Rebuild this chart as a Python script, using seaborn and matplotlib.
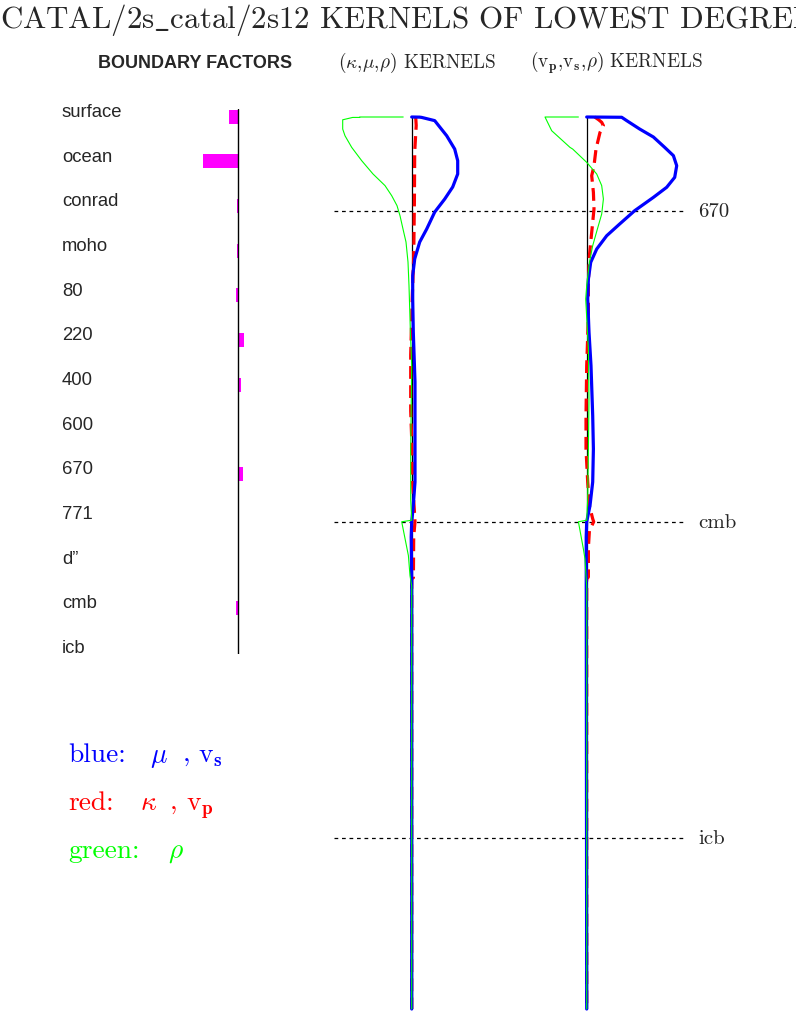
import matplotlib
matplotlib.use('Agg')
import numpy as np
import pandas as pd
import matplotlib.pyplot as plt
import seaborn as sns
from matplotlib.transforms import blended_transform_factory, offset_copy


W, H = 796, 1012
EARTH_RADIUS = 6371

# boundary factors (left panel)
BOUNDARY_NAMES = ['surface', 'ocean', 'conrad', 'moho', '80', '220', '400',
                  '600', '670', '771', 'd\u201d', 'cmb', 'icb']
BOUNDARY_FACTORS = [-8.5, -35, -0.5, -0.5, -1.8, 6.5, 3.3, 0, 5.5, 0, 0, -1.5, 0]

# discontinuities marked across the kernel panels (depth, km)
DISC_NAMES = ['670', 'cmb', 'icb']
DISC_DEPTHS = [670, 2891, 5150]

# (kappa, mu, rho) kernels
K1_MU_DEPTH = [0, 1, 3, 26, 134, 229, 312, 407, 500, 586, 679, 800, 893, 1014,
               1133, 1300, 1536, 1893, 2250, 2607, 2800, 2891, 3000, 3300, 6371]
K1_MU = [0, 8, 10, 23, 35, 43, 46, 46, 41, 33, 23, 15, 8, 3,
         1, 1, 1.6, 3.3, 3.3, 3.3, 1.3, 0, -0.5, 0, 0]

K1_KAPPA_DEPTH = [0, 60, 250, 600, 1000, 1100, 1300, 1700, 2100, 2300, 2600,
                  2850, 2891, 3000, 3290, 3300, 6371]
K1_KAPPA = [4, 4.5, 3, 2.7, 2, 1.5, 0.5, -1, -1, 0, 0.8,
            3, 3.3, 2, 1.7, 0, 0]

K1_RHO_DEPTH = [0, 0, 3, 3, 20, 86, 134, 217, 312, 407, 490, 562, 633, 705, 800,
                893, 1036, 1205, 1536, 1776, 2370, 2730, 2880, 2891, 3133, 3276,
                3350, 6371]
K1_RHO = [-8.5, -52, -52, -59, -69, -69, -66.7, -60, -50, -38.7, -26.7, -20, -14.7,
          -11.7, -8.7, -5.7, -3.7, -2.7, -1.3, 0, -1, -1, 0, -10, -3.3, -1.7, 0, 0]

# (vp, vs, rho) kernels
K2_VS_DEPTH = [0, 2, 26, 86, 143, 217, 276, 348, 431, 502, 574, 669, 764, 848, 943,
               1038, 1157, 1300, 1536, 1776, 2133, 2371, 2607, 2776, 2891, 3000, 6371]
K2_VS = [0, 35, 40, 53, 66.7, 78, 86.7, 90, 88, 80, 66.7, 48, 33, 20, 10,
         4, 1.7, 1, 2.3, 4.3, 6, 6.7, 6, 3.3, 0, -0.5, 0]

K2_VP_DEPTH = [0, 20, 38, 62, 110, 229, 348, 419, 538, 657, 824, 991, 1180, 1420,
               1776, 2133, 2371, 2607, 2776, 2870, 2891, 2955, 3073, 3286, 3300, 6371]
K2_VP = [8, 12, 15, 16.7, 13.3, 9.3, 7.3, 5, 6.7, 7.3, 5, 2.7, 1.7, 1.7,
         0, -0.7, -0.7, 1, 2.7, 6, 7, 2.7, 1.7, 1.7, 0, 0]

K2_RHO_DEPTH = [0, 0, 98, 217, 229, 324, 407, 490, 586, 693, 800, 919, 1038, 1205,
                1300, 1657, 2014, 2371, 2728, 2880, 2891, 3086, 3157, 3276, 3350, 6371]
K2_RHO = [-8.3, -41.7, -35, -16.7, -14, 0, 10, 15, 16.7, 15, 10.7, 6, 2.7, 0,
          -1, 1.7, 2.3, 1.7, 1, 0, -8.3, -3.3, -1.7, -0.7, 0, 0]

BLUE, RED, GREEN, MAGENTA = '#0000ff', '#ff0000', '#00ff00', '#ff00ff'

sns.set_theme(style='white')
plt.rcParams['mathtext.fontset'] = 'cm'
plt.rcParams['font.family'] = ['cmr10', 'DejaVu Serif']
plt.rcParams['axes.formatter.use_mathtext'] = True
SANS = ['Liberation Sans', 'DejaVu Sans']


def px_axes(fig, left, top, right, bottom):
    """Add an axes given its box in pixels from the top-left corner."""
    return fig.add_axes([left / W, 1 - bottom / H, (right - left) / W, (bottom - top) / H])


def fig_xy(x, y):
    return x / W, 1 - y / H


def draw_kernel_panel(fig, left, right, zero_px, series):
    ax = px_axes(fig, left, 118, right, 1010)
    ax.axvline(0, color='black', lw=0.9)
    for depth, vals, color, lw, ls in series:
        sns.lineplot(x=vals, y=depth, sort=False, estimator=None, orient='y',
                     color=color, lw=lw, linestyle=ls, clip_on=False, ax=ax)
    ax.set_xlim(left - zero_px, right - zero_px)
    ax.set_ylim(EARTH_RADIUS, 0)
    ax.set(xlabel='', ylabel='')
    ax.axis('off')
    return ax


fig = plt.figure(figsize=(W / 100, H / 100), dpi=100)

# title (runs off the page like the original)
fig.text(*fig_xy(0, 28), r'CATAL/2s$\_$catal/2s12 KERNELS OF LOWEST DEGREE',
         fontsize=22.3, va='baseline', ha='left')

# headings
fig.text(*fig_xy(195, 68), 'BOUNDARY FACTORS', family=SANS, fontsize=13,
         weight='bold', ha='center', va='baseline')
fig.text(*fig_xy(417, 68), r'$(\kappa,\!\mu,\!\rho)$ KERNELS', fontsize=13.8,
         ha='center', va='baseline')
fig.text(*fig_xy(617, 68), r'$(\mathrm{v}_\mathbf{p},\!\mathrm{v}_\mathbf{s},\!\rho)$ KERNELS',
         fontsize=13.8, ha='center', va='baseline')

# boundary factors
axb = px_axes(fig, 190, 110, 262, 655)
axb.axvline(0, color='black', lw=1)
sns.barplot(x=BOUNDARY_FACTORS, y=BOUNDARY_NAMES, orient='h', color=MAGENTA,
            saturation=1, width=0.31, linewidth=0, ax=axb)
axb.set_xlim(190 - 237.7, 262 - 237.7)
axb.set_ylim(12.03, -0.17)
axb.axis('off')
label_tr = offset_copy(blended_transform_factory(fig.transFigure, axb.transData),
                       fig=fig, y=5, units='dots')
for i, name in enumerate(BOUNDARY_NAMES):
    axb.text(62 / W, i, name, transform=label_tr, family=SANS, fontsize=13.3,
             ha='left', va='center')

# discontinuity lines behind the kernels
axd = px_axes(fig, 334, 118, 685, 1010)
axd.set_xlim(0, 1)
axd.set_ylim(EARTH_RADIUS, 0)
for name, depth in zip(DISC_NAMES, DISC_DEPTHS):
    axd.axhline(depth, color='black', lw=0.9, linestyle=(0, (3, 3)))
    axd.text(1.037, depth, name, transform=axd.get_yaxis_transform(),
             fontsize=15, ha='left', va='center')
axd.axis('off')

# red first so the blue and green lines sit on top in the core
dashed = (0, (4, 2))
draw_kernel_panel(fig, 330, 492, 411.7, [
    (K1_KAPPA_DEPTH, K1_KAPPA, RED, 2.3, dashed),
    (K1_MU_DEPTH, K1_MU, BLUE, 2.3, '-'),
    (K1_RHO_DEPTH, K1_RHO, GREEN, 0.8, '-'),
])
draw_kernel_panel(fig, 505, 700, 586.7, [
    (K2_VP_DEPTH, K2_VP, RED, 2.3, dashed),
    (K2_VS_DEPTH, K2_VS, BLUE, 2.3, '-'),
    (K2_RHO_DEPTH, K2_RHO, GREEN, 0.8, '-'),
])

# colour key
key_size = 19.8
for y, color, parts in [
    (762, BLUE, [(68, 'blue:'), (150, r'$\mu$'), (183, ','), (198, r'$\mathrm{v}_\mathbf{s}$')]),
    (810, RED, [(68, 'red:'), (140, r'$\kappa$'), (170, ','), (186, r'$\mathrm{v}_\mathbf{p}$')]),
    (858, GREEN, [(68, 'green:'), (168, r'$\rho$')]),
]:
    for x, txt in parts:
        fig.text(*fig_xy(x, y), txt, color=color, fontsize=key_size,
                 ha='left', va='baseline')

fig.savefig('out.png', dpi=100, facecolor='white')
